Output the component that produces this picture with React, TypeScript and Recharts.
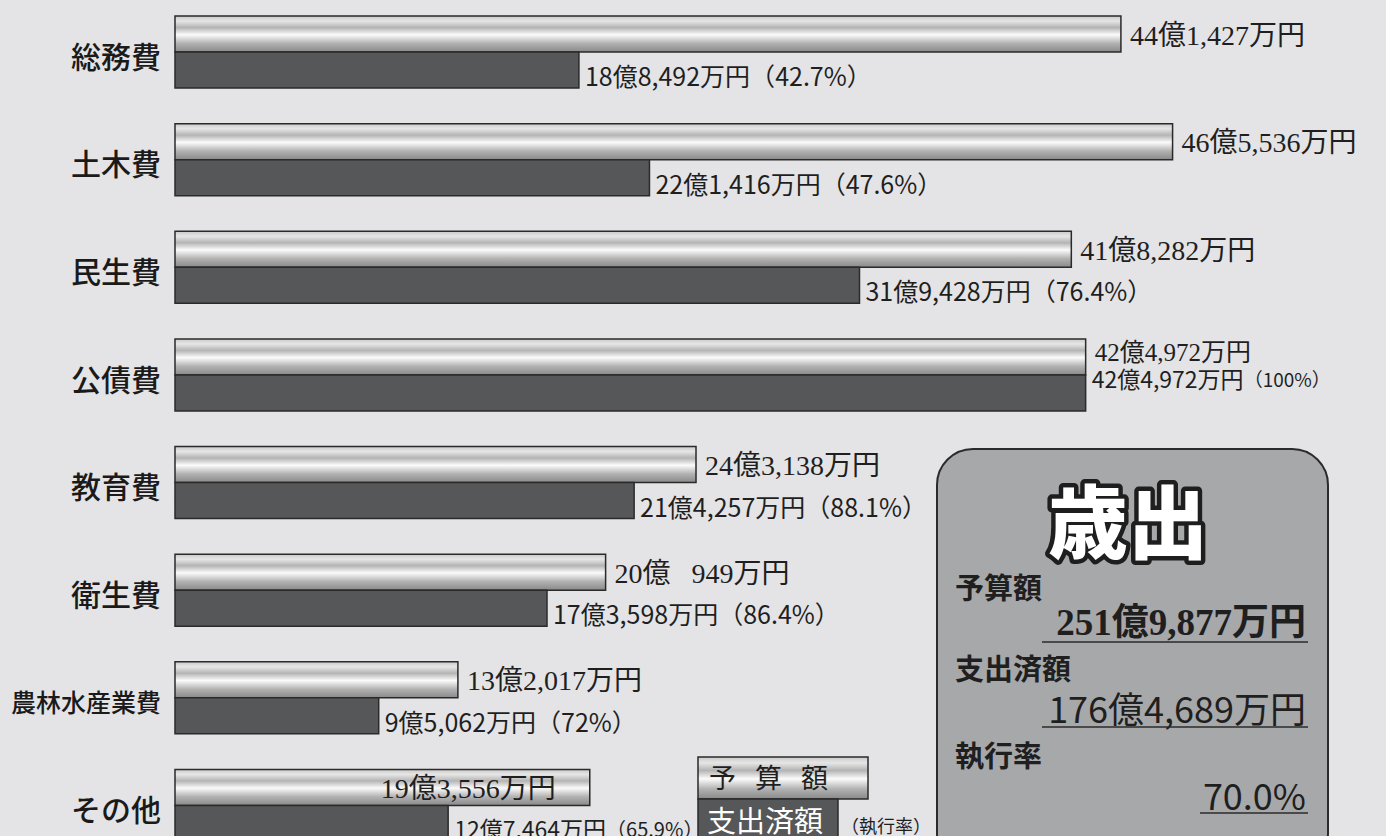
import { BarChart, Bar, XAxis, YAxis, LabelList } from 'recharts'

const categories = ['総務費', '土木費', '民生費', '公債費', '教育費', '衛生費', '農林水産業費', 'その他']
// 単位: 万円
const budget = [441427, 465536, 418282, 424972, 243138, 200949, 132017, 193556]
const spent = [188492, 221416, 319428, 424972, 214257, 173598, 95062, 127464]
const rates = ['42.7%', '47.6%', '76.4%', '100%', '88.1%', '86.4%', '72%', '65.9%']

const SANS = "'Noto Sans CJK JP', 'Noto Sans', sans-serif"
const SERIF = "'Liberation Serif', 'DejaVu Serif', 'Noto Sans CJK JP', serif"

function yen(v: number) {
  const oku = Math.floor(v / 10000)
  const man = v % 10000
  const manStr = man >= 1000 ? man.toLocaleString('en-US') : '\u00a0\u00a0\u00a0' + man
  return `${oku}億${manStr}万円`
}

const data = categories.map((name, i) => ({
  name,
  budget: budget[i],
  spent: spent[i],
  budgetLabel: yen(budget[i]),
  spentLabel: yen(spent[i]),
  rate: rates[i],
}))

const totalBudget = budget.reduce((a, b) => a + b, 0)
const totalSpent = spent.reduce((a, b) => a + b, 0)
const totalRate = ((totalSpent / totalBudget) * 100).toFixed(1) + '%'

const box = (p: any) => {
  const vb = p.viewBox ?? p
  return { x: vb.x ?? p.x, y: vb.y ?? p.y, width: vb.width ?? p.width, height: vb.height ?? p.height }
}

const BudgetLabel = (p: any) => {
  const { x, y, width, height } = box(p)
  const i = p.index
  const inside = i === categories.length - 1
  const tight = i === 3
  return (
    <text
      x={inside ? x + width - 34 : x + width + 9}
      y={tight ? y + height / 2 - 4 : y + height / 2 + 1}
      textAnchor={inside ? 'end' : 'start'}
      dominantBaseline="central"
      fontFamily={SERIF}
      fontSize={tight ? 25 : 28}
      fill="#1f1f1f"
    >
      {p.value}
    </text>
  )
}

const SpentLabel = (p: any) => {
  const { x, y, width, height } = box(p)
  const i = p.index
  const last = i === categories.length - 1
  const cy = i === 3 ? y + 3 : y + height / 2 + 5
  const size = i === 3 ? 23 : last ? 23 : 25
  const pctSize = i === 3 ? 19 : last ? 20 : 25
  return (
    <text x={x + width + 6} y={cy} dominantBaseline="central" fontFamily={SANS} fontSize={size} fill="#1f1f1f">
      {p.value}
      <tspan fontSize={pctSize}>（{rates[i]}）</tspan>
    </text>
  )
}

const CategoryTick = ({ x, y, payload }: any) => {
  const long = payload.value.length > 4
  return (
    <text
      x={x - 12}
      y={y + 3}
      textAnchor="end"
      dominantBaseline="central"
      fontFamily={SANS}
      fontWeight={500}
      fontSize={long ? 25 : 30}
      fill="#1a1a1a"
    >
      {payload.value}
    </text>
  )
}

const gradStops = (
  <>
    <stop offset="0%" stopColor="#c9c9c9" />
    <stop offset="14%" stopColor="#e6e6e6" />
    <stop offset="32%" stopColor="#b4b4b4" />
    <stop offset="52%" stopColor="#fbfbfb" />
    <stop offset="76%" stopColor="#b2b2b2" />
    <stop offset="100%" stopColor="#898989" />
  </>
)

export default function App() {
  return (
    <div
      style={{
        position: 'absolute',
        left: 0,
        top: 0,
        width: 1386,
        height: 836,
        overflow: 'hidden',
        background: '#e4e4e6',
      }}
    >
      <div style={{ position: 'absolute', left: 0, top: -2 }}>
        <BarChart
          width={1386}
          height={861}
          data={data}
          layout="vertical"
          margin={{ top: 0, right: 11, bottom: 0, left: 0 }}
          barSize={36}
          barGap={0}
        >
          <defs>
            <linearGradient id="budgetGrad" x1="0" y1="0" x2="0" y2="1">
              {gradStops}
            </linearGradient>
          </defs>
          <XAxis type="number" domain={[0, 560000]} hide />
          <YAxis
            type="category"
            dataKey="name"
            width={175}
            axisLine={false}
            tickLine={false}
            tickSize={0}
            tick={<CategoryTick />}
          />
          <Bar dataKey="budget" fill="url(#budgetGrad)" stroke="#2a2a2a" strokeWidth={1.5} isAnimationActive={false}>
            <LabelList dataKey="budgetLabel" content={BudgetLabel} />
          </Bar>
          <Bar dataKey="spent" fill="#565759" stroke="#2a2a2a" strokeWidth={1.5} isAnimationActive={false}>
            <LabelList dataKey="spentLabel" content={SpentLabel} />
          </Bar>
        </BarChart>
      </div>

      <svg
        width={1386}
        height={836}
        style={{ position: 'absolute', left: 0, top: 0, pointerEvents: 'none' }}
      >
        <defs>
          <linearGradient id="legendGrad" x1="0" y1="0" x2="0" y2="1">
            {gradStops}
          </linearGradient>
        </defs>

        {/* 凡例 */}
        <rect x={698} y={757} width={170} height={42} fill="url(#legendGrad)" stroke="#2a2a2a" strokeWidth={1.5} />
        <text x={709} y={779} dominantBaseline="central" fontFamily={SERIF} fontSize={27} letterSpacing={19} fill="#1f1f1f">
          予算額
        </text>
        <rect x={698} y={799} width={140} height={60} fill="#565759" stroke="#2a2a2a" strokeWidth={1.5} />
        <text x={707} y={819} dominantBaseline="central" fontFamily={SANS} fontSize={29} fill="#ffffff">
          支出済額
        </text>
        <text x={841} y={825} dominantBaseline="central" fontFamily={SANS} fontSize={18} fill="#1f1f1f">
          （執行率）
        </text>

        {/* 歳出まとめ */}
        <rect x={937} y={449} width={391} height={420} rx={36} fill="#a7a8aa" stroke="#2b2b2b" strokeWidth={2} />
        <text
          x={1128}
          y={517}
          textAnchor="middle"
          dominantBaseline="central"
          fontFamily={SANS}
          fontWeight={900}
          fontSize={80}
          fill="#ffffff"
          stroke="#1e1e1e"
          strokeWidth={9}
          strokeLinejoin="round"
          paintOrder="stroke"
        >
          歳出
        </text>

        <text x={955} y={586} dominantBaseline="central" fontFamily={SANS} fontWeight={700} fontSize={29} fill="#1f1f1f">
          予算額
        </text>
        <text x={1306} y={622} textAnchor="end" dominantBaseline="central" fontFamily={SERIF} fontWeight={700} fontSize={37} fill="#1f1f1f">
          {yen(totalBudget)}
        </text>
        <line x1={1042} x2={1308} y1={642} y2={642} stroke="#2b2b2b" strokeWidth={1.5} />

        <text x={955} y={667} dominantBaseline="central" fontFamily={SANS} fontWeight={700} fontSize={29} fill="#1f1f1f">
          支出済額
        </text>
        <text x={1306} y={707} textAnchor="end" dominantBaseline="central" fontFamily={SANS} fontSize={36} fill="#1f1f1f">
          {yen(totalSpent)}
        </text>
        <line x1={1042} x2={1308} y1={727} y2={727} stroke="#2b2b2b" strokeWidth={1.5} />

        <text x={955} y={754} dominantBaseline="central" fontFamily={SANS} fontWeight={700} fontSize={29} fill="#1f1f1f">
          執行率
        </text>
        <text x={1306} y={794} textAnchor="end" dominantBaseline="central" fontFamily={SANS} fontSize={36} fill="#1f1f1f">
          {totalRate}
        </text>
        <line x1={1200} x2={1308} y1={813} y2={813} stroke="#2b2b2b" strokeWidth={1.5} />
      </svg>
    </div>
  )
}
